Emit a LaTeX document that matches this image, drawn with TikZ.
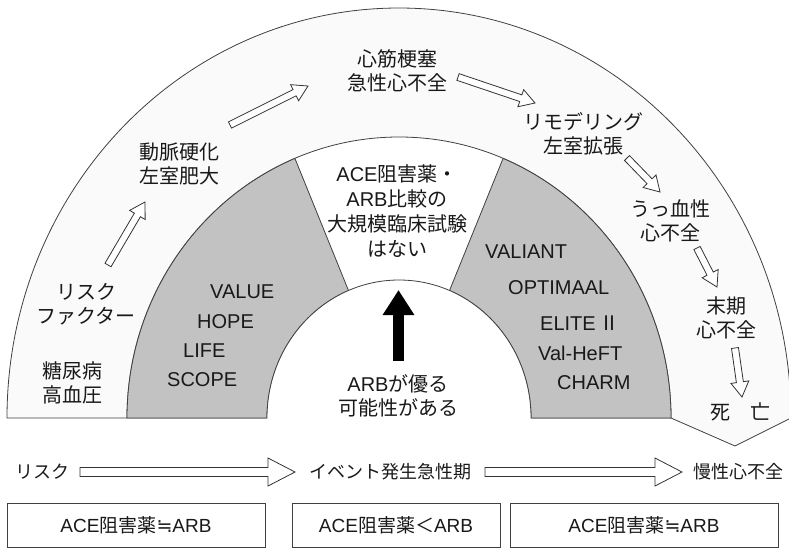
\documentclass[tikz,border=0pt]{standalone}
\usepackage{fontspec}
\setmainfont{Noto Sans CJK JP}
\newfontfamily\lat{Liberation Sans}
\newfontfamily\dvs{DejaVu Sans}
\usetikzlibrary{calc,arrows.meta}
\tikzset{
  lbl/.style={align=center, font=\fontsize{20}{24}\selectfont, inner sep=0pt, text=black!90},
  lblb/.style={font=\fontsize{18}{22}\selectfont, inner sep=0pt, text=black!90},
  trial/.style={font=\lat\fontsize{20}{24}\selectfont, inner sep=0pt, anchor=west, text=black!90},
  hollow/.style={draw=black!80, fill=white, line width=0.8pt, line join=miter},
  band/.style={draw=black!75, line width=0.8pt},
  rbox/.style={draw=black!75, line width=0.8pt, minimum height=44pt, inner sep=0pt,
               font=\fontsize{19}{23}\selectfont, text=black!90},
}
\newcommand{\fatarrow}[5]{%
  \draw[hollow] ($(#1)!#3!90:(#2)$) -- ($(#2)!#5!(#1)!#3!-90:(#1)$)
    -- ($(#2)!#5!(#1)!#4!-90:(#1)$) -- (#2)
    -- ($(#2)!#5!(#1)!#4!90:(#1)$) -- ($(#2)!#5!(#1)!#3!90:(#1)$)
    -- ($(#1)!#3!-90:(#2)$) -- cycle;}
\begin{document}
\begin{tikzpicture}[x=1pt,y=-1pt]
\useasboundingbox (0,0) rectangle (789,550);
\coordinate (O) at (399,418);
% outer band
\path[fill=black!2] (7,418) arc[start angle=180,end angle=360,x radius=392,y radius=410]
  -- (735,446) -- (671,418) -- cycle;
\draw[band] (267,418) -- (7,418) arc[start angle=180,end angle=360,x radius=392,y radius=410]
  -- (735,446) -- (671,418) -- (531,418);
% middle ring
\draw[band, fill=white] (127,418) arc[start angle=180,end angle=360,x radius=272,y radius=281];
% gray sectors
\draw[band, fill=black!24] (127,418) arc[start angle=180,end angle=247.5,x radius=272,y radius=281]
  -- ($(O)+(247.5:132 and 138)$) arc[start angle=247.5,end angle=180,x radius=132,y radius=138] -- cycle;
\draw[band, fill=black!24] (671,418) arc[start angle=360,end angle=292.5,x radius=272,y radius=281]
  -- ($(O)+(292.5:132 and 138)$) arc[start angle=292.5,end angle=360,x radius=132,y radius=138] -- cycle;
% inner half disc
\draw[band, fill=white] (267,418) arc[start angle=180,end angle=360,x radius=132,y radius=138];

% outer band labels
\node[lbl] (mi)    at (397,71)  {心筋梗塞\\急性心不全};
\node[lbl] (ath)   at (179,164) {動脈硬化\\左室肥大};
\node[lbl] (rf)    at (86,304)  {リスク\\ファクター};
\node[lbl] (dm)    at (72,383)  {糖尿病\\高血圧};
\node[lbl] (remo)  at (583,134) {リモデリング\\左室拡張};
\node[lbl] (chf)   at (670,221) {うっ血性\\心不全};
\node[lbl] (endhf) at (726,318) {末期\\心不全};
\node[lbl] (death) at (740,412) {死　亡};

% center labels
\node[lbl, font=\fontsize{20}{25}\selectfont] (nocomp) at (397,211)
  {{\lat ACE}阻害薬・\\{\lat ARB}比較の\\大規模臨床試験\\はない};
\node[lbl] (arbsup) at (398,396) {{\lat ARB}が優る\\可能性がある};

% trials
\node[trial] (value) at (210,292) {VALUE};
\node[trial] (hope)  at (197,322) {HOPE};
\node[trial] (life)  at (183,351) {LIFE};
\node[trial] (scope) at (167,380) {SCOPE};
\node[trial] (valiant)  at (485,252) {VALIANT};
\node[trial] (optimaal) at (508,288) {OPTIMAAL};
\node[trial] (elite)    at (540,323) {ELITE\,{\rmfamily Ⅱ}};
\node[trial] (valheft)  at (538,353) {Val-HeFT};
\node[trial] (charm)    at (557,383) {CHARM};

% black arrow
\coordinate (bkbase) at (398.5,361);
\coordinate (bktip)  at (398.5,290);
\draw[line width=11pt, -{Triangle[length=25pt,width=30pt]}] (bkbase) -- (bktip);

% hollow arrows along the band
\coordinate (a1s) at (108,265); \coordinate (a1e) at (145,202);
\coordinate (a2s) at (230,125); \coordinate (a2e) at (308,86);
\coordinate (a3s) at (458,77);  \coordinate (a3e) at (535,103);
\coordinate (a4s) at (627,158); \coordinate (a4e) at (660,192);
\coordinate (a5s) at (697,248); \coordinate (a5e) at (717,287);
\coordinate (a6s) at (735,348); \coordinate (a6e) at (742,397);
\fatarrow{a1s}{a1e}{3.5pt}{9pt}{15pt}
\fatarrow{a2s}{a2e}{3.5pt}{9pt}{15pt}
\fatarrow{a3s}{a3e}{3.5pt}{9pt}{15pt}
\fatarrow{a4s}{a4e}{3.5pt}{9pt}{15pt}
\fatarrow{a5s}{a5e}{3.5pt}{9pt}{15pt}
\fatarrow{a6s}{a6e}{3.5pt}{9pt}{15pt}

% bottom timeline
\node[lblb] (risk)    at (42,472)  {リスク};
\node[lblb] (event)   at (390,472) {イベント発生急性期};
\node[lblb] (chronic) at (738,472) {慢性心不全};
\coordinate (b1s) at (80,472);  \coordinate (b1e) at (295,472);
\coordinate (b2s) at (485,472); \coordinate (b2e) at (682,472);
\fatarrow{b1s}{b1e}{4.5pt}{14pt}{27pt}
\fatarrow{b2s}{b2e}{4.5pt}{14pt}{27pt}

% bottom boxes
\node[rbox, minimum width=258pt] (box1) at (136,525) {{\lat ACE}阻害薬{\dvs ≒}{\lat ARB}};
\node[rbox, minimum width=208pt] (box2) at (396,525) {{\lat ACE}阻害薬＜{\lat ARB}};
\node[rbox, minimum width=268pt] (box3) at (644,525) {{\lat ACE}阻害薬{\dvs ≒}{\lat ARB}};
\end{tikzpicture}
\end{document}
